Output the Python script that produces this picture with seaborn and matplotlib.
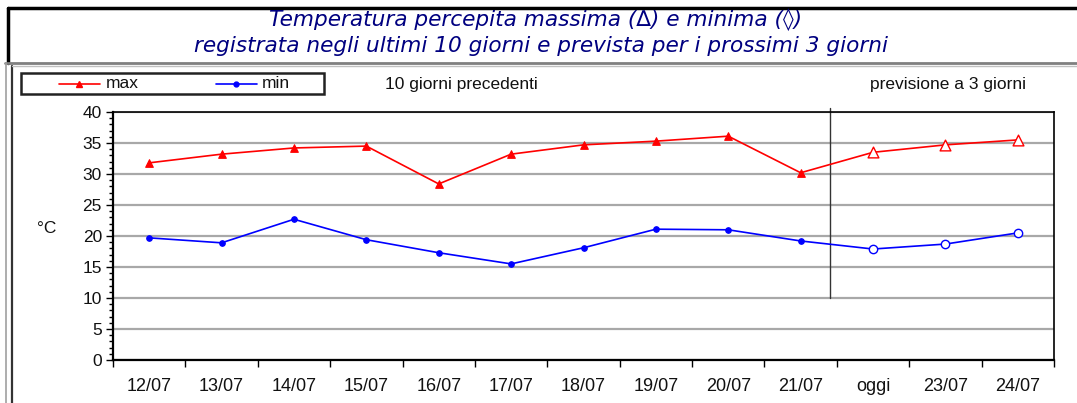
import matplotlib
matplotlib.use("Agg")
import matplotlib.pyplot as plt
import seaborn as sns
import pandas as pd
from matplotlib.lines import Line2D
from matplotlib.patches import Rectangle

categories = ["12/07", "13/07", "14/07", "15/07", "16/07", "17/07", "18/07",
              "19/07", "20/07", "21/07", "oggi", "23/07", "24/07"]
t_max = [31.8, 33.2, 34.2, 34.5, 28.4, 33.2, 34.7, 35.3, 36.1, 30.2, 33.5, 34.7, 35.5]
t_min = [19.7, 18.9, 22.7, 19.4, 17.3, 15.5, 18.1, 21.1, 21.0, 19.2, 17.9, 18.7, 20.5]
n_past = 10

sns.set_theme(style="white")
plt.rcParams['font.family'] = ['Liberation Sans', 'DejaVu Sans']

W, H = 1077, 403
fig = plt.figure(figsize=(W / 100, H / 100), dpi=100)
ax = fig.add_axes([113 / W, 1 - 360 / H, (1054 - 113) / W, (360 - 112) / H])

df = pd.DataFrame({"giorno": categories, "max": t_max, "min": t_min})
df["pos"] = range(len(df))
df["fase"] = ["past"] * n_past + ["fcst"] * (len(df) - n_past)

red = "#ff0000"
blue = "#0000ff"
sns.lineplot(data=df, x="pos", y="max", ax=ax, color=red, lw=1.2, zorder=3)
sns.lineplot(data=df, x="pos", y="min", ax=ax, color=blue, lw=1.2, zorder=3)
past = df[df.fase == "past"]
fcst = df[df.fase == "fcst"]
sns.scatterplot(data=past, x="pos", y="max", ax=ax, marker="^", s=30, color=red,
                edgecolor=red, linewidth=0.8, zorder=4)
sns.scatterplot(data=past, x="pos", y="min", ax=ax, marker="o", s=16, color=blue,
                edgecolor=blue, linewidth=0.8, zorder=4)
sns.scatterplot(data=fcst, x="pos", y="max", ax=ax, marker="^", s=60, facecolor="white",
                edgecolor=red, linewidth=1.0, zorder=4)
sns.scatterplot(data=fcst, x="pos", y="min", ax=ax, marker="o", s=36, facecolor="white",
                edgecolor=blue, linewidth=1.0, zorder=4)

ax.set_xlim(-0.5, len(categories) - 0.5)
ax.set_ylim(0, 40)
ax.set_yticks(range(0, 41, 5))
ax.set_yticks(range(0, 41, 1), minor=True)
ax.set_xticks(range(len(categories)))
ax.set_xticklabels(categories)
ax.set_xticks([i - 0.5 for i in range(len(categories) + 1)], minor=True)
ax.tick_params(axis="x", which="major", length=0, pad=13, labelsize=13, colors="#111111")
ax.tick_params(axis="x", which="minor", length=5, width=1, direction="out", bottom=True, color="black")
ax.tick_params(axis="y", which="major", length=5, width=1, direction="out", left=True,
               labelsize=12.5, pad=3, color="black", labelcolor="#111111")
ax.tick_params(axis="y", which="minor", length=3, width=1, direction="out", left=True, color="black")
ax.set_xlabel("")
ax.set_ylabel("°C", rotation=0, fontsize=12.5, labelpad=0, va="center", ha="center", color="#111111")
ax.yaxis.set_label_coords(-0.07, 0.53)
ax.grid(axis="y", which="major", color="#a8a8a8", lw=1.6, zorder=0)
ax.set_axisbelow(True)
for sp in ax.spines.values():
    sp.set_color("black")
    sp.set_linewidth(1.2)
ax.spines["left"].set_linewidth(1.6)
ax.spines["bottom"].set_linewidth(1.6)

ax.plot([n_past - 0.6, n_past - 0.6], [10, 40.6], color="#333333", lw=1.0, clip_on=False, zorder=2)

# Legend (drawn manually in figure pixel coordinates)
def fx(px):
    return px / W

def fy(py):
    return 1 - py / H

fig.add_artist(Rectangle((fx(21), fy(94)), fx(324) - fx(21), fy(73) - fy(94),
                         transform=fig.transFigure, facecolor="white", edgecolor="#222222", lw=1.8))
ly = fy(84)
fig.add_artist(Line2D([fx(59), fx(100)], [ly, ly], color=red, lw=1.2))
fig.add_artist(Line2D([fx(79)], [ly], color=red, marker="^", markersize=5, lw=0))
fig.text(fx(106), ly, "max", fontsize=12.5, va="center", ha="left", color="#111111")
fig.add_artist(Line2D([fx(216), fx(257)], [ly, ly], color=blue, lw=1.2))
fig.add_artist(Line2D([fx(236)], [ly], color=blue, marker="o", markersize=3.5, lw=0))
fig.text(fx(262), ly, "min", fontsize=12.5, va="center", ha="left", color="#111111")

fig.text(fx(385), fy(85), "10 giorni precedenti", fontsize=12.5, va="center", ha="left", color="#111111")
fig.text(fx(870), fy(85), "previsione a 3 giorni", fontsize=12.5, va="center", ha="left", color="#111111")

# Title
navy = "#000080"
fig.text(fx(536), fy(20), "Temperatura percepita massima (∆) e minima (◊)",
         fontsize=15.6, style="italic", color=navy, ha="center", va="center",
         family=["DejaVu Sans"])
fig.text(fx(541), fy(46), "registrata negli ultimi 10 giorni e prevista per i prossimi 3 giorni",
         fontsize=15.6, style="italic", color=navy, ha="center", va="center",
         family=["DejaVu Sans"])

# Frames
fig.add_artist(Line2D([fx(8), 1], [fy(8), fy(8)], color="black", lw=2.5))
fig.add_artist(Line2D([fx(8), fx(8)], [fy(8), fy(63)], color="black", lw=2.5))
fig.add_artist(Line2D([fx(5), 1], [fy(63), fy(63)], color="#808080", lw=2))
fig.add_artist(Line2D([fx(6), fx(6)], [fy(63), 0], color="#a0a0a0", lw=1.2))
fig.add_artist(Line2D([fx(12), fx(12)], [fy(66), 0], color="#333333", lw=1.6))
fig.add_artist(Line2D([fx(12), 1], [fy(66), fy(66)], color="#c0c0c0", lw=1.0))

fig.savefig("out.png", dpi=100)
